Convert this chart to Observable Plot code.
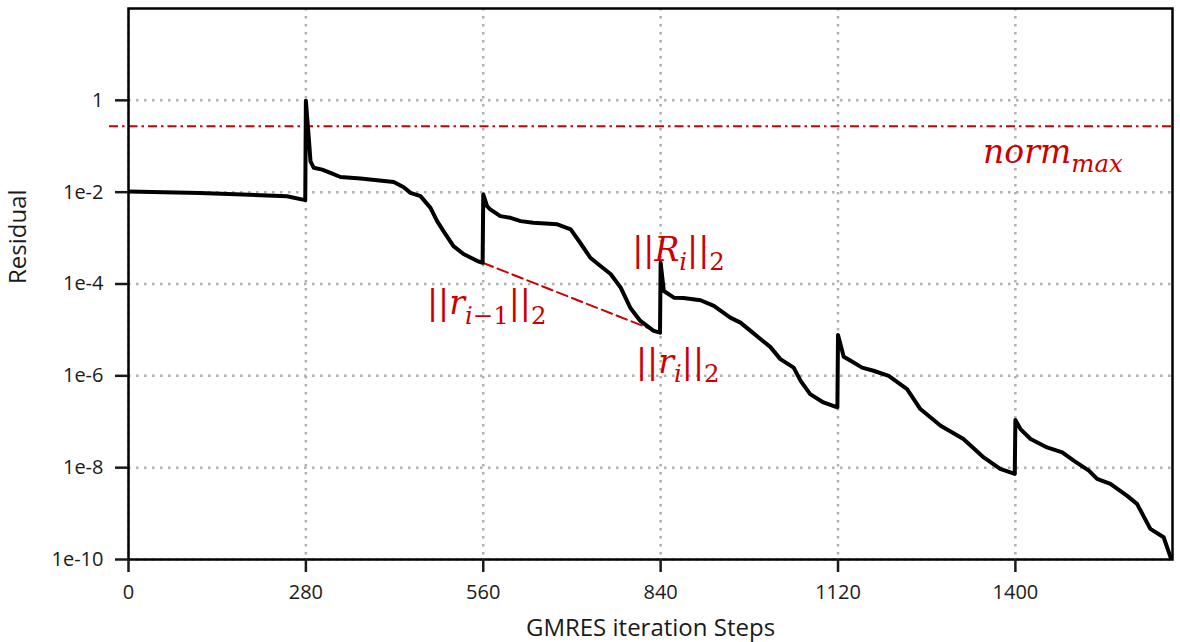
<!DOCTYPE html>
<html>
<head>
<meta charset="utf-8">
<script src="https://cdn.jsdelivr.net/npm/d3@7"></script>
<script src="https://cdn.jsdelivr.net/npm/@observablehq/plot@0.6"></script>
<style>
  html, body { margin: 0; padding: 0; background: #fff; }
  #chart svg { display: block; }
</style>
</head>
<body>
<div id="chart"></div>
<script>
// ---- data ----
const steps = [
  0, 113, 250, 279, 280, 284.6, 287.3, 292.5, 305.7, 318.8, 334.6, 366.2, 418.7, 434.5, 445.1, 460.9, 476.7, 487.2, 497.2, 513, 528.8, 550.8, 559,
  560, 566, 571, 587, 603, 619, 639, 677, 698, 713, 729, 745, 761, 777, 792, 808, 829, 839,
  840, 845, 861, 876, 903, 924, 950, 966, 982, 998, 1013, 1029, 1050, 1061, 1076, 1097, 1119,
  1120, 1129, 1140, 1158, 1176, 1200, 1229, 1250, 1282, 1318, 1350, 1376, 1399,
  1400, 1408, 1424, 1450, 1474, 1492, 1516, 1529, 1550, 1576, 1592, 1613, 1634, 1645, 1650
];
const residuals = [
  1.03e-2, 9.55e-3, 8.18e-3, 6.70e-3, 9.77e-1, 1.51e-1, 4.68e-2, 3.39e-2, 3.09e-2, 2.63e-2, 2.14e-2, 1.99e-2, 1.67e-2, 1.28e-2, 9.66e-3, 8.18e-3, 4.56e-3, 2.34e-3, 1.42e-3, 6.70e-4, 4.49e-4, 3.16e-4, 2.90e-4,
  8.91e-3, 4.97e-3, 4.21e-3, 3.01e-3, 2.76e-3, 2.34e-3, 2.15e-3, 1.99e-3, 1.55e-3, 7.91e-4, 3.73e-4, 2.46e-4, 1.65e-4, 8.32e-5, 3.05e-5, 1.57e-5, 9.51e-6, 8.73e-6,
  2.90e-4, 7.05e-5, 5.04e-5, 4.95e-5, 4.43e-5, 3.33e-5, 1.85e-5, 1.44e-5, 9.51e-6, 6.28e-6, 4.27e-6, 2.31e-6, 1.51e-6, 7.78e-7, 4.00e-7, 2.63e-7, 2.05e-7,
  7.78e-6, 2.59e-6, 2.12e-6, 1.51e-6, 1.29e-6, 1.00e-6, 5.14e-7, 1.89e-7, 8.18e-8, 4.21e-8, 1.67e-8, 9.38e-9, 7.29e-9,
  1.09e-7, 6.93e-8, 4.21e-8, 2.76e-8, 2.15e-8, 1.42e-8, 8.61e-9, 5.68e-9, 4.43e-9, 2.46e-9, 1.63e-9, 4.65e-10, 3.05e-10, 1.12e-10, 8.0e-11
];

const xTicks = [0, 280, 560, 840, 1120, 1400];
const yTickValues = [1, 1e-2, 1e-4, 1e-6, 1e-8, 1e-10];
const yTickLabels = ["1", "1e-2", "1e-4", "1e-6", "1e-8", "1e-10"];

const normMax = 0.272;           // dash-dot threshold line
const normLineStart = -30;       // line starts a little left of the axis
const restartSteps = [559, 839];          // dashed segment ||r_{i-1}|| -> ||r_i||
const restartResiduals = [2.90e-4, 8.73e-6];

const annLabels = ["norm_{max}", "||R_i||_2", "||r_{i\u22121}||_2", "||r_i||_2"];
const annSteps = [1349, 795, 471, 801];
const annValues = [4.27e-2, 3.16e-4, 2.19e-5, 1.17e-6];

const xLabel = "GMRES iteration Steps";
const yLabel = "Residual";

// ---- build tables ----
const series = steps.map((s, i) => ({step: s, res: residuals[i]}));
const restart = restartSteps.map((s, i) => ({step: s, res: restartResiduals[i]}));
const normRow = [{y: normMax, x1: normLineStart, x2: 1648}];
const anns = annLabels.map((t, i) => ({t, step: annSteps[i], res: annValues[i]}));

const RED = "#cc0000";
const GRID = "#b0b0b0";
const ANN_SIZE = 33;

const plot = Plot.plot({
  width: 1180,
  height: 642,
  marginLeft: 128,
  marginRight: 8,
  marginTop: 8,
  marginBottom: 83,
  style: {fontFamily: "'Open Sans', sans-serif", fontSize: "20px", color: "#1a1a1a", background: "#fff", overflow: "visible"},
  x: {domain: [0, 1648]},
  y: {type: "log", domain: [1e-10, 100]},
  marks: [
    Plot.ruleX(xTicks, {stroke: GRID, strokeWidth: 2.5, strokeDasharray: "2.5,5.5"}),
    Plot.ruleY(yTickValues, {stroke: GRID, strokeWidth: 2.5, strokeDasharray: "2.5,5.5"}),
    Plot.ruleY(normRow, {y: "y", x1: "x1", x2: "x2", stroke: RED, strokeWidth: 2, strokeDasharray: "9,4,2.5,4"}),
    Plot.line(restart, {x: "step", y: "res", stroke: RED, strokeWidth: 2, strokeDasharray: "11,5"}),
    Plot.line(series, {x: "step", y: "res", stroke: "black", strokeWidth: 4, strokeLinejoin: "round", clip: true}),
    Plot.frame({stroke: "black", strokeWidth: 2.5}),
    Plot.axisX(xTicks, {anchor: "bottom", tickSize: 13, tickPadding: 12, strokeWidth: 2.5, fontSize: 20, label: null, tickFormat: d => String(d)}),
    Plot.axisY(yTickValues, {anchor: "left", tickSize: 13, tickPadding: 12, strokeWidth: 2.5, fontSize: 20, label: null,
      tickFormat: d => yTickLabels[yTickValues.indexOf(d)]}),
    Plot.text([xLabel], {frameAnchor: "bottom", dy: 69, lineAnchor: "middle", fontSize: 24, fill: "#1a1a1a"}),
    Plot.text([yLabel], {frameAnchor: "left", dx: -110, rotate: -90, lineAnchor: "middle", fontSize: 24, fill: "#1a1a1a"}),
    Plot.text(anns, {x: "step", y: "res", text: "t", textAnchor: "start", lineAnchor: "bottom",
      fontFamily: "'DejaVu Serif', serif", fontSize: ANN_SIZE, fill: RED})
  ]
});

// turn "a_{b}" annotation strings into tspans with subscripts, italic letters
function mathify(el, size) {
  const s = el.textContent;
  const tokens = [];
  let i = 0, buf = "";
  while (i < s.length) {
    if (s[i] === "_") {
      if (buf) { tokens.push({text: buf, sub: false}); buf = ""; }
      let sub;
      if (s[i + 1] === "{") { const j = s.indexOf("}", i); sub = s.slice(i + 2, j); i = j + 1; }
      else { sub = s[i + 1]; i += 2; }
      tokens.push({text: sub, sub: true});
    } else { buf += s[i]; i++; }
  }
  if (buf) tokens.push({text: buf, sub: false});
  while (el.firstChild) el.removeChild(el.firstChild);
  const shift = size * 0.28;
  let cur = 0;
  for (const tok of tokens) {
    const runs = tok.text.match(/[A-Za-z]+|[^A-Za-z]+/g) || [];
    for (const r of runs) {
      const ts = document.createElementNS("http://www.w3.org/2000/svg", "tspan");
      const want = tok.sub ? shift : 0;
      if (want !== cur) { ts.setAttribute("dy", want - cur); cur = want; }
      ts.setAttribute("font-size", tok.sub ? size * 0.74 : size);
      ts.setAttribute("font-style", /[A-Za-z]/.test(r) ? "italic" : "normal");
      ts.textContent = r;
      el.appendChild(ts);
    }
  }
}
d3.select(plot).selectAll("text").each(function () {
  const t = this.textContent;
  if (t.includes("_") || t.includes("||")) mathify(this, ANN_SIZE);
});

document.getElementById("chart").appendChild(plot);
</script>
</body>
</html>
